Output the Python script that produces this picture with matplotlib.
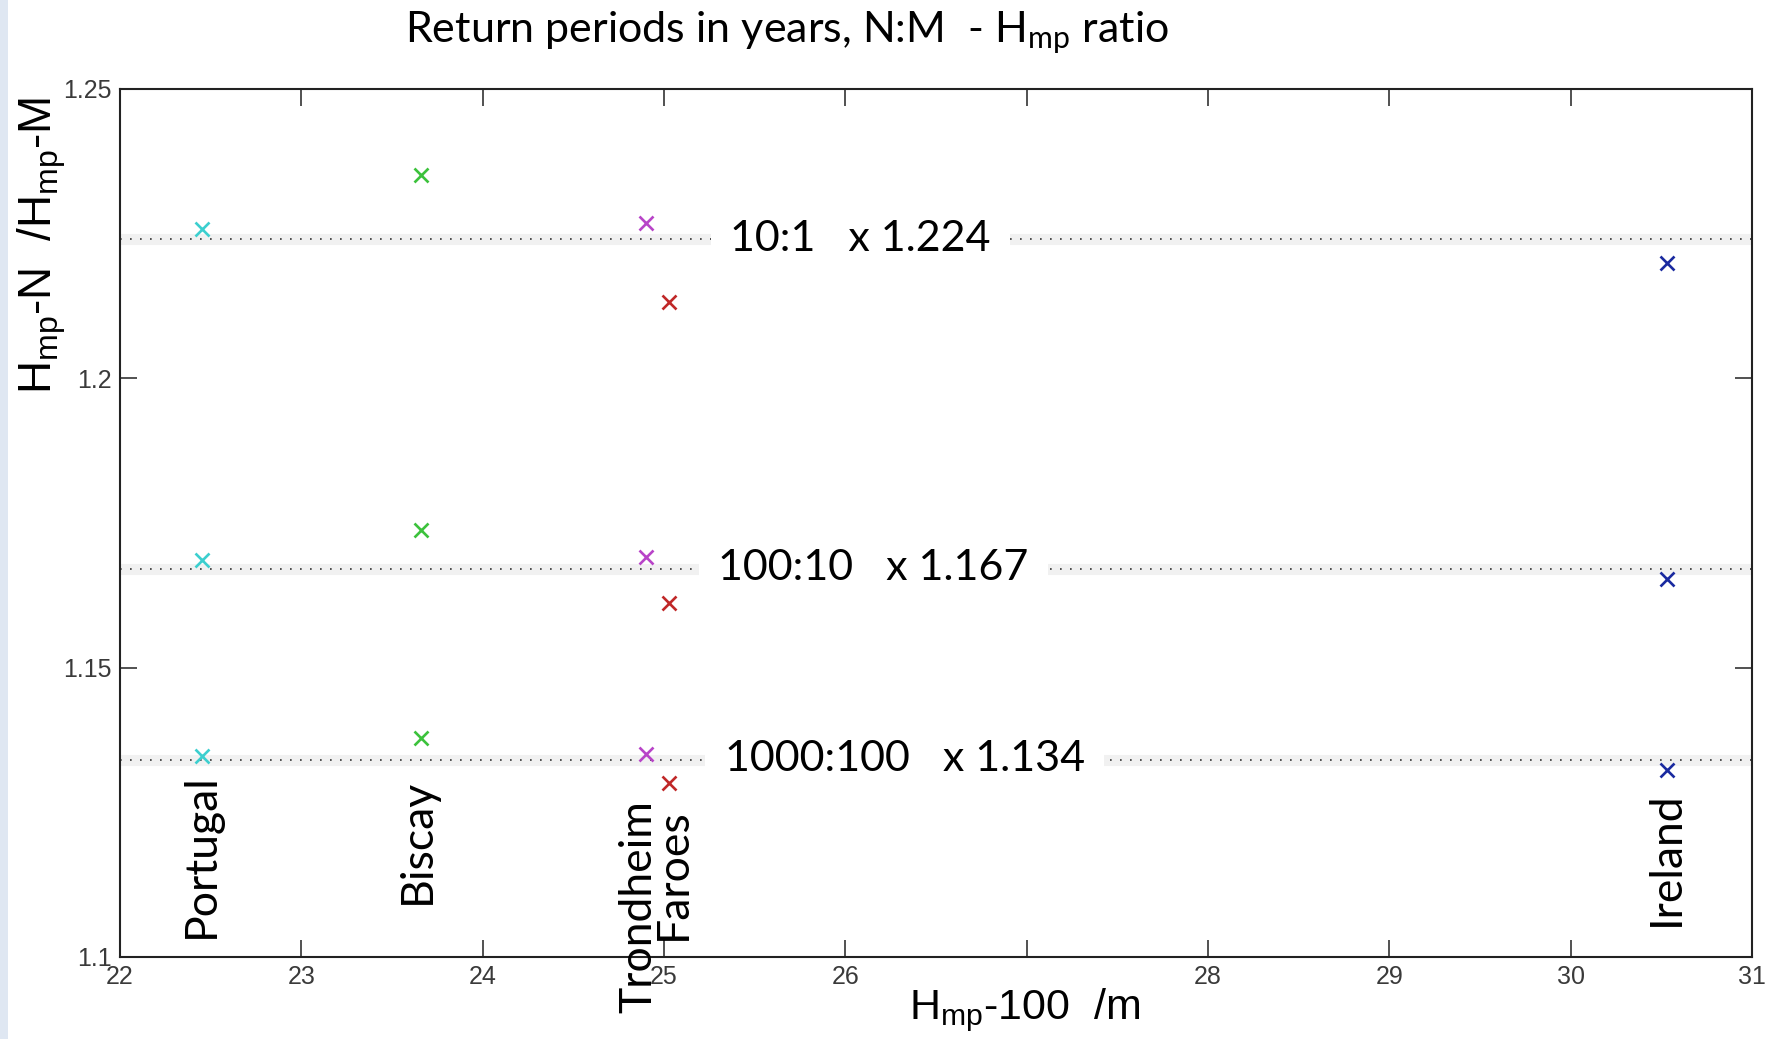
import matplotlib
matplotlib.use("Agg")
import matplotlib.pyplot as plt
from matplotlib.patches import Rectangle

# ---------------- data ----------------
sites = ["Portugal", "Biscay", "Trondheim", "Faroes", "Ireland"]
hmp_minus_100 = [22.45, 23.66, 24.90, 25.03, 30.53]
ratio_10_1 = [1.2258, 1.2352, 1.2268, 1.2132, 1.2200]
ratio_100_10 = [1.1686, 1.1738, 1.1692, 1.1612, 1.1653]
ratio_1000_100 = [1.1347, 1.1378, 1.1351, 1.1300, 1.1323]
site_colors = ["#3ccfcf", "#3cc23c", "#b844c8", "#c02828", "#1a2aa0"]

mean_labels = ["10:1", "100:10", "1000:100"]
mean_factors = [1.224, 1.167, 1.134]

x_ticks = [22, 23, 24, 25, 26, 27, 28, 29, 30, 31]
x_tick_labels = ["22", "23", "24", "25", "26", "", "28", "29", "30", "31"]
y_ticks = [1.1, 1.15, 1.2, 1.25]
y_tick_labels = ["1.1", "1.15", "1.2", "1.25"]

# ---------------- layout ----------------
W, H, DPI = 1767, 1039, 100
fig = plt.figure(figsize=(W / DPI, H / DPI), dpi=DPI)
fig.patch.set_facecolor("white")
fig.patches.append(Rectangle((0, 0), 8 / W, 1, transform=fig.transFigure,
                             facecolor="#dfe7f2", edgecolor="none", zorder=0))

ax = fig.add_axes([120 / W, 82 / H, (1752 - 120) / W, (957 - 89) / H])
ax.set_xlim(22, 31)
ax.set_ylim(1.1, 1.25)

tick_font = ["Liberation Sans Narrow", "Liberation Sans", "DejaVu Sans"]
ax.set_xticks(x_ticks)
ax.set_xticklabels(x_tick_labels, family=tick_font, fontsize=18, color="#3a3a3a")
ax.set_yticks(y_ticks)
ax.set_yticklabels(y_tick_labels, family=tick_font, fontsize=18, color="#3a3a3a")
ax.tick_params(direction="in", length=12, width=1.1, top=True, right=True,
               color="#222222", pad=6)
for s in ax.spines.values():
    s.set_linewidth(1.5)
    s.set_color("#222222")

# mean ratio lines with labels
label_x = [25.365, 25.30, 25.335]
for lab, f, lx in zip(mean_labels, mean_factors, label_x):
    ax.axhline(f, color="#f1f1f1", lw=8, zorder=1)
    ax.axhline(f, color="#333333", lw=1.2, linestyle=(0, (1, 5)), zorder=2)
    ax.annotate(f"{lab}   x {f:.3f}", xy=(lx, f), xytext=(0, -8),
                textcoords="offset points", family=["Lato", "DejaVu Sans"],
                fontsize=31, va="baseline", ha="left", zorder=3,
                bbox=dict(boxstyle="square,pad=0.45", facecolor="white",
                          edgecolor="none"))

# markers
for i in range(len(sites)):
    ys = [ratio_10_1[i], ratio_100_10[i], ratio_1000_100[i]]
    ax.plot([hmp_minus_100[i]] * 3, ys, linestyle="none", marker="x",
            markersize=10.5, markeredgewidth=1.9, color=site_colors[i], zorder=4)

# site labels (rotated), offset in points from the lowest marker
label_offsets = [(0, -12), (-2.5, -29.5), (-5, -33), (2.5, -18), (0, -15.5)]
for i, name in enumerate(sites):
    ax.annotate(name, xy=(hmp_minus_100[i], ratio_1000_100[i]),
                xytext=label_offsets[i], textcoords="offset points",
                rotation=90, va="top", ha="center", fontsize=32,
                family=["Lato", "DejaVu Sans"], annotation_clip=False, zorder=5)

# titles / axis labels
fig.text(787 / W, 1 - 32 / H,
         r"Return periods in years, N:M  - H$_\mathregular{mp}$ ratio",
         family=["Lato", "DejaVu Sans"], fontsize=31, ha="center", va="center")
fig.text(42 / W, 1 - 245 / H, r"H$_\mathregular{mp}$-N  /H$_\mathregular{mp}$-M",
         family=["Liberation Sans", "DejaVu Sans"], fontsize=33, rotation=90,
         ha="center", va="center")
fig.text(1025 / W, 1 - 1010 / H, r"H$_\mathregular{mp}$-100  /m",
         family=["Liberation Sans Narrow", "Liberation Sans", "DejaVu Sans"],
         fontsize=31, ha="center", va="center")

fig.savefig("out.png", dpi=DPI)
